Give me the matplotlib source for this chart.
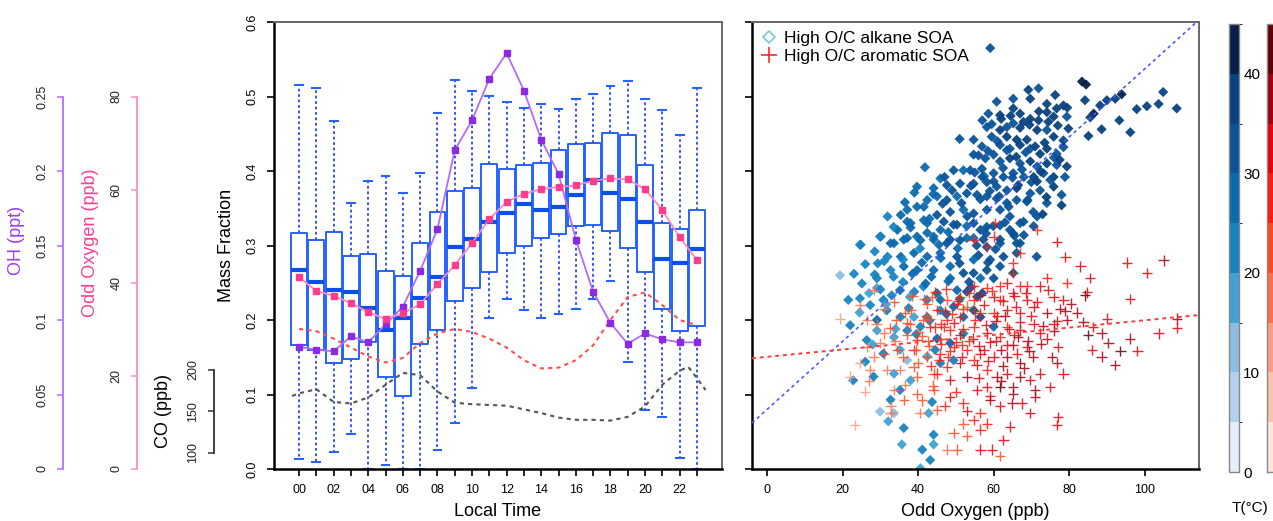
import numpy as np
import matplotlib
matplotlib.use("Agg")
import matplotlib.pyplot as plt
from matplotlib.colors import ListedColormap, BoundaryNorm
from matplotlib.lines import Line2D
import matplotlib.colorbar as mcolorbar

plt.rcParams['font.family'] = ['Liberation Sans', 'DejaVu Sans']

# ---- diurnal panel: mass fraction box stats per local hour ----
hours = np.arange(24)
hour_labels = [f"{h:02d}" if h % 2 == 0 else "" for h in hours]

mf_whishi = [0.515, 0.511, 0.467, 0.357, 0.387, 0.393, 0.370, 0.397, 0.478, 0.522, 0.508, 0.501,
             0.492, 0.484, 0.490, 0.483, 0.497, 0.503, 0.514, 0.521, 0.497, 0.482, 0.448, 0.512]
mf_q3 = [0.317, 0.308, 0.318, 0.286, 0.289, 0.266, 0.259, 0.304, 0.345, 0.373, 0.377, 0.410,
         0.403, 0.408, 0.411, 0.428, 0.436, 0.438, 0.451, 0.448, 0.408, 0.330, 0.322, 0.347]
mf_med = [0.267, 0.251, 0.240, 0.238, 0.216, 0.187, 0.203, 0.229, 0.258, 0.298, 0.309, 0.332,
          0.343, 0.356, 0.348, 0.352, 0.368, 0.388, 0.371, 0.362, 0.331, 0.282, 0.277, 0.295]
mf_q1 = [0.166, 0.160, 0.142, 0.147, 0.170, 0.124, 0.098, 0.168, 0.186, 0.225, 0.243, 0.265,
         0.290, 0.299, 0.310, 0.315, 0.326, 0.328, 0.320, 0.296, 0.265, 0.215, 0.185, 0.192]
mf_whislo = [0.013, 0.010, 0.023, 0.047, 0.000, 0.006, 0.000, 0.000, 0.025, 0.062, 0.109, 0.203,
             0.228, 0.213, 0.203, 0.208, 0.215, 0.228, 0.252, 0.144, 0.079, 0.070, 0.015, 0.000]

oh_ppt = [0.082, 0.080, 0.079, 0.089, 0.085, 0.097, 0.109, 0.133, 0.161, 0.214, 0.234, 0.262,
          0.279, 0.254, 0.221, 0.198, 0.154, 0.119, 0.098, 0.084, 0.091, 0.087, 0.085, 0.085]
ox_ppb = [41.2, 38.2, 37.2, 35.6, 33.7, 32.2, 33.4, 35.4, 39.7, 43.8, 48.5, 53.7,
          57.4, 59.1, 60.1, 60.6, 60.9, 61.9, 62.4, 62.2, 60.1, 55.6, 49.8, 44.9]
# second mass-fraction trace (red dashed)
mf_other = [0.188, 0.185, 0.175, 0.163, 0.151, 0.143, 0.149, 0.169, 0.182, 0.188, 0.184, 0.175,
            0.163, 0.146, 0.135, 0.136, 0.146, 0.166, 0.200, 0.231, 0.237, 0.220, 0.200, 0.193]
co_hours = [-0.4, 0, 1, 2, 3, 4, 5, 6, 7, 8, 9, 10, 11, 12, 13, 14, 15, 16, 17, 18, 19, 20,
            21, 22, 22.5, 23, 23.5]
co_ppb = [168.6, 171.8, 176.7, 161.4, 159.6, 166.8, 182.1, 196.4, 193.7, 174.0, 160.5, 158.7,
          157.8, 156.9, 152.5, 148.0, 142.6, 139.9, 139.9, 139.0, 143.5, 156.1, 182.1, 199.1,
          203.6, 190.1, 175.8]

# ---- scatter panel: mass fraction vs odd oxygen, coloured by temperature ----
alk_ox = [59.1, 83.4, 84.5, 93.9, 104.9, 108.5, 103.7, 100.6, 97.9, 96.2,
          93.3, 92.2, 90.0, 88.2, 86.5, 85.6, 88.6, 85.1, 84.2, 71.9,
          69.2, 69.7, 65.2, 60.8, 58.6, 61.7, 65.2, 67.0, 74.1, 76.3,
          78.5, 76.7, 79.4, 79.8, 75.9, 74.1, 71.9, 69.7, 67.9, 65.2,
          63.5, 61.7, 58.2, 63.5, 66.1, 68.8, 71.5, 74.1, 75.9, 78.5,
          76.7, 74.1, 72.3, 69.7, 67.0, 64.3, 61.7, 59.5, 56.9, 54.7,
          51.0, 54.7, 57.8, 60.0, 61.7, 64.3, 67.0, 69.7, 71.5, 74.1,
          76.7, 79.4, 78.9, 75.9, 73.2, 70.6, 68.0, 65.2, 62.6, 60.0,
          56.9, 53.8, 52.0, 49.4, 45.9, 41.8, 39.7, 44.1, 47.6, 51.1,
          54.7, 58.2, 60.8, 63.5, 66.1, 69.7, 72.3, 75.9, 78.0, 78.0,
          74.1, 71.5, 68.8, 66.1, 63.5, 60.8, 58.2, 55.6, 52.9, 50.3,
          47.6, 45.0, 42.4, 39.7, 37.1, 35.4, 31.9, 30.1, 24.8, 34.5,
          38.0, 41.5, 45.0, 48.5, 52.0, 54.7, 58.2, 61.7, 64.3, 67.0,
          70.6, 64.3, 59.9, 56.5, 52.9, 49.4, 45.9, 42.4, 39.7, 36.2,
          32.7, 44.1, 48.5, 52.9, 57.3, 61.7, 66.1,
          37.1, 42.4, 46.8, 50.3, 54.7, 58.2, 61.7, 65.2, 67.9, 29.9,
          24.6, 33.6, 37.1, 40.6, 44.1, 47.6, 51.1, 54.7, 58.2, 61.7,
          67.0, 71.4, 66.1, 62.6, 59.1, 54.7, 50.3, 45.9, 42.4, 38.9,
          35.4, 31.9, 29.3, 32.7, 36.2, 39.7, 44.1, 48.5, 52.0, 54.7,
          58.2, 61.7, 65.2, 60.0, 56.5, 19.3, 25.1, 29.1, 29.1, 24.6,
          21.5, 27.3, 30.8, 35.2, 37.8, 41.4, 42.3, 45.9, 50.3, 52.9,
          55.6, 54.7, 56.5, 52.0, 49.4, 45.9, 42.4, 38.9, 35.3, 31.7,
          29.1, 22.0, 26.4, 29.1, 33.6, 37.1, 40.6, 45.0, 48.5, 52.0,
          60.0, 26.0, 30.8, 35.2, 37.1, 42.4, 45.9, 49.4, 22.8, 28.2,
          33.6, 38.0, 35.2, 32.7, 33.6, 29.9, 32.1, 36.2, 42.8, 43.7,
          44.1, 41.1, 44.1, 35.7, 43.2, 40.6,
          57.0, 59.5, 62.0, 64.5, 67.0, 69.5, 72.0, 74.5, 77.0, 79.5,
          56.0, 58.5, 61.0, 63.5, 66.0, 68.5, 71.0, 73.5, 76.0, 78.5,
          55.0, 57.5, 60.0, 62.5, 65.0, 67.5, 70.0, 72.5, 75.0, 77.5,
          36.5, 39.0, 41.5, 44.0, 46.5, 49.0, 51.5, 54.0, 56.5, 59.0,
          61.5, 64.0, 66.5, 69.0, 71.5, 74.0, 38.0, 43.0, 48.0, 53.0,
          58.0, 63.0, 68.0, 73.0, 40.5, 45.5, 50.5, 55.5, 60.5, 65.5,
          70.5, 33.5, 28.5, 47.0, 57.0,
          23.0, 26.0, 28.5, 31.0, 33.5, 36.0, 38.5, 41.0, 43.5, 46.0,
          48.5, 51.0, 53.5, 56.0, 58.5, 27.0, 30.0, 33.0, 36.0, 39.0,
          42.0, 45.0, 48.0, 51.0, 54.0, 57.0, 24.5, 31.5, 37.5, 43.0,
          47.5, 34.0, 39.5, 28.0, 44.5]
alk_mf = [0.565, 0.520, 0.516, 0.503, 0.506, 0.484, 0.490, 0.487, 0.483, 0.452,
          0.468, 0.497, 0.495, 0.488, 0.477, 0.472, 0.456, 0.447, 0.495, 0.511,
          0.509, 0.497, 0.497, 0.493, 0.477, 0.475, 0.484, 0.477, 0.490, 0.502,
          0.488, 0.484, 0.473, 0.457, 0.473, 0.479, 0.468, 0.470, 0.466, 0.464,
          0.459, 0.455, 0.459, 0.446, 0.442, 0.442, 0.455, 0.455, 0.446, 0.432,
          0.423, 0.430, 0.423, 0.430, 0.435, 0.430, 0.435, 0.446, 0.433, 0.442,
          0.443, 0.422, 0.417, 0.422, 0.413, 0.417, 0.410, 0.413, 0.406, 0.410,
          0.408, 0.406, 0.392, 0.392, 0.397, 0.392, 0.392, 0.397, 0.392, 0.397,
          0.403, 0.401, 0.401, 0.401, 0.390, 0.405, 0.379, 0.377, 0.381, 0.383,
          0.383, 0.385, 0.379, 0.374, 0.377, 0.370, 0.374, 0.379, 0.368, 0.354,
          0.357, 0.339, 0.359, 0.361, 0.357, 0.363, 0.366, 0.368, 0.370, 0.366,
          0.361, 0.366, 0.361, 0.352, 0.348, 0.341, 0.339, 0.312, 0.301, 0.321,
          0.330, 0.334, 0.341, 0.345, 0.348, 0.343, 0.348, 0.348, 0.339, 0.330,
          0.326, 0.321, 0.326, 0.321, 0.326, 0.328, 0.321, 0.317, 0.312, 0.308,
          0.303, 0.308, 0.308, 0.310, 0.308, 0.308, 0.303,
          0.332, 0.330, 0.332, 0.328, 0.330, 0.325, 0.327, 0.316, 0.332, 0.312,
          0.301, 0.303, 0.310, 0.307, 0.312, 0.303, 0.307, 0.310, 0.298, 0.303,
          0.303, 0.285, 0.290, 0.285, 0.281, 0.281, 0.285, 0.290, 0.285, 0.290,
          0.285, 0.285, 0.276, 0.267, 0.272, 0.267, 0.267, 0.272, 0.263, 0.263,
          0.267, 0.272, 0.263, 0.256, 0.256, 0.260, 0.249, 0.256, 0.243, 0.229,
          0.227, 0.220, 0.227, 0.240, 0.231, 0.245, 0.227, 0.227, 0.240, 0.238,
          0.231, 0.213, 0.204, 0.204, 0.218, 0.213, 0.204, 0.204, 0.204, 0.213,
          0.200, 0.193, 0.173, 0.186, 0.177, 0.186, 0.191, 0.175, 0.169, 0.182,
          0.191, 0.144, 0.155, 0.160, 0.146, 0.151, 0.142, 0.146, 0.119, 0.124,
          0.128, 0.119, 0.106, 0.093, 0.075, 0.077, 0.064, 0.055, 0.075, 0.090,
          0.046, 0.026, 0.033, 0.033, 0.012, 0.001,
          0.468, 0.463, 0.470, 0.474, 0.458, 0.462, 0.480, 0.466, 0.461, 0.485,
          0.421, 0.427, 0.440, 0.428, 0.419, 0.425, 0.433, 0.438, 0.418, 0.441,
          0.398, 0.393, 0.386, 0.404, 0.391, 0.402, 0.385, 0.399, 0.388, 0.415,
          0.358, 0.371, 0.352, 0.369, 0.356, 0.374, 0.357, 0.380, 0.362, 0.373,
          0.366, 0.352, 0.381, 0.361, 0.386, 0.365, 0.324, 0.336, 0.318, 0.339,
          0.316, 0.331, 0.314, 0.342, 0.296, 0.301, 0.296, 0.300, 0.295, 0.313,
          0.345, 0.325, 0.292, 0.392, 0.392,
          0.262, 0.275, 0.261, 0.279, 0.258, 0.281, 0.262, 0.277, 0.258, 0.283,
          0.256, 0.276, 0.251, 0.287, 0.277, 0.236, 0.241, 0.233, 0.251, 0.238,
          0.249, 0.236, 0.252, 0.228, 0.244, 0.236, 0.210, 0.221, 0.216, 0.199,
          0.208, 0.188, 0.181, 0.167, 0.160]
alk_temp = [34, 41, 44, 44, 38, 38, 37, 38, 37, 38,
            36, 38, 37, 38, 40, 39, 37, 36, 36, 34,
            38, 36, 34, 33, 32, 35, 37, 36, 35, 37,
            36, 38, 34, 36, 37, 36, 38, 35, 36, 34,
            33, 35, 31, 36, 37, 35, 36, 34, 35, 33,
            34, 36, 35, 33, 36, 34, 32, 33, 31, 32,
            30, 33, 31, 34, 32, 35, 33, 36, 34, 35,
            33, 36, 34, 35, 33, 36, 32, 34, 31, 33,
            30, 32, 29, 30, 28, 27, 26, 29, 30, 31,
            33, 31, 34, 32, 35, 33, 34, 36, 33, 35,
            34, 33, 32, 34, 31, 33, 30, 32, 31, 29,
            30, 28, 29, 27, 28, 26, 24, 25, 20, 27,
            28, 29, 30, 31, 29, 32, 30, 33, 31, 32,
            33, 31, 30, 32, 29, 30, 28, 27, 28, 26,
            25, 29, 31, 28, 30, 32, 33,
            27, 29, 30, 31, 33, 30, 32, 34, 33, 24,
            22, 26, 27, 29, 28, 30, 31, 29, 33, 31,
            30, 34, 32, 30, 31, 29, 30, 27, 26, 28,
            25, 24, 22, 24, 26, 27, 29, 28, 30, 31,
            32, 34, 33, 31, 29, 14, 21, 23, 19, 22,
            24, 20, 23, 26, 17, 24, 21, 26, 28, 31,
            32, 30, 33, 28, 27, 24, 22, 18, 23, 21,
            25, 23, 20, 18, 16, 23, 22, 25, 27, 20,
            26, 22, 21, 17, 13, 19, 21, 20, 24, 22,
            18, 15, 20, 22, 14, 12, 17, 21, 19, 20,
            22, 21, 19, 18, 20, 17,
            33, 34, 36, 35, 37, 36, 38, 37, 36, 39,
            31, 33, 34, 32, 35, 34, 36, 35, 34, 37,
            30, 29, 32, 31, 33, 34, 32, 35, 33, 36,
            26, 27, 28, 29, 30, 31, 30, 32, 33, 32,
            34, 33, 35, 34, 36, 35, 25, 27, 29, 30,
            31, 33, 34, 35, 24, 27, 29, 30, 31, 33,
            34, 24, 21, 31, 33,
            20, 22, 21, 23, 22, 24, 25, 26, 27, 28,
            29, 30, 31, 32, 33, 19, 21, 20, 22, 24,
            25, 26, 27, 28, 30, 31, 17, 19, 21, 23,
            25, 18, 20, 15, 21]

aro_ox = [60.4, 71.4, 76.7, 54.7, 58.2, 79.0, 83.0, 85.6, 95.3, 105.0,
          100.6, 96.2, 84.7, 84.2, 79.4, 78.5, 75.9, 74.1, 72.3, 68.8,
          67.0, 65.2, 63.5, 61.7, 60.0, 58.2, 54.7, 52.9, 50.3, 47.6,
          45.0, 42.4, 38.0, 33.6, 30.9, 28.2, 24.6, 19.3, 26.4, 32.6,
          37.0, 39.7, 43.2, 45.9, 48.5, 51.1, 54.7, 58.2, 61.7, 65.2,
          63.5, 67.0, 70.6, 72.3, 74.1, 76.7, 79.4, 83.8, 86.4, 88.6,
          90.0, 90.4, 93.6, 96.2, 98.1, 92.2, 88.6, 86.0, 103.7, 108.6,
          108.6, 77.1, 76.7, 78.5, 74.9, 70.5, 67.0, 69.7, 71.0, 67.5,
          69.7, 77.1, 76.7, 65.2, 63.5, 61.7, 59.1, 61.7, 56.5, 54.7,
          56.5, 52.9, 56.5, 59.6, 62.6, 61.7, 50.3, 47.7, 52.0, 45.0,
          40.6, 39.7, 44.1, 48.5, 52.9, 55.6, 58.2, 54.7, 51.1, 47.6,
          44.1, 39.7, 35.2, 31.7, 27.3, 22.0, 26.0, 33.6, 36.2, 32.7,
          23.3, 32.7, 28.2, 30.9, 34.4, 38.8, 42.4, 45.9, 49.4, 52.9,
          56.5, 60.0, 63.5, 66.1, 68.8, 47.6, 51.1, 56.5, 60.0, 63.5,
          67.0, 70.6, 74.1, 75.9, 61.7, 65.2, 68.8, 54.7, 51.1, 43.7,
          46.8, 41.4, 37.8, 34.2, 29.9, 26.4, 24.6, 38.8, 45.0, 60.8,
          67.0, 72.3, 65.2, 58.2, 48.5, 52.0, 64.3, 58.2, 49.4, 67.0,
          60.0, 65.2,
          42.0, 44.5, 47.0, 49.5, 52.0, 55.0, 57.5, 60.5, 63.0, 66.0,
          41.0, 43.0, 46.0, 50.0, 53.5, 56.0, 59.0, 62.0, 65.5, 69.0,
          36.0, 40.0, 43.5, 48.0, 51.5, 55.5, 58.5, 62.5, 36.5, 31.0,
          38.5, 41.5, 44.5, 47.5, 50.5, 53.5, 56.5, 59.5, 62.5, 65.5,
          68.5, 71.5, 74.5, 77.5, 80.5, 37.0, 40.0, 43.0, 46.0, 49.0,
          52.0, 55.0, 58.0, 61.0, 64.0, 67.0, 70.0, 73.0, 76.0, 79.0,
          39.5, 42.5, 45.5, 48.5, 51.5, 54.5, 57.5, 60.5, 63.5, 66.5,
          69.5, 72.5, 75.5, 82.0, 85.0, 34.0, 29.0, 27.0, 36.5, 41.0,
          44.0, 47.0, 50.0, 53.0, 56.0, 59.0, 62.0, 65.0, 68.0, 71.0]
aro_mf = [0.330, 0.321, 0.305, 0.307, 0.298, 0.285, 0.272, 0.256, 0.277, 0.280,
          0.263, 0.228, 0.237, 0.233, 0.250, 0.227, 0.231, 0.256, 0.245, 0.227,
          0.245, 0.263, 0.249, 0.245, 0.231, 0.243, 0.227, 0.218, 0.222, 0.227,
          0.213, 0.222, 0.213, 0.224, 0.215, 0.240, 0.220, 0.202, 0.200, 0.189,
          0.180, 0.173, 0.191, 0.175, 0.186, 0.180, 0.191, 0.182, 0.177, 0.166,
          0.191, 0.186, 0.195, 0.182, 0.175, 0.198, 0.200, 0.197, 0.191, 0.182,
          0.202, 0.169, 0.158, 0.175, 0.158, 0.140, 0.151, 0.160, 0.182, 0.189,
          0.202, 0.164, 0.142, 0.128, 0.110, 0.151, 0.142, 0.119, 0.097, 0.088,
          0.075, 0.070, 0.059, 0.110, 0.128, 0.110, 0.093, 0.084, 0.075, 0.066,
          0.053, 0.044, 0.026, 0.026, 0.039, 0.017, 0.026, 0.026, 0.061, 0.079,
          0.075, 0.101, 0.106, 0.119, 0.124, 0.106, 0.133, 0.146, 0.142, 0.137,
          0.128, 0.124, 0.133, 0.133, 0.133, 0.124, 0.104, 0.106, 0.093, 0.075,
          0.059, 0.084, 0.151, 0.155, 0.160, 0.160, 0.151, 0.155, 0.164, 0.160,
          0.155, 0.151, 0.151, 0.155, 0.164, 0.200, 0.204, 0.209, 0.209, 0.213,
          0.209, 0.218, 0.209, 0.195, 0.227, 0.236, 0.245, 0.245, 0.231, 0.231,
          0.191, 0.200, 0.195, 0.200, 0.169, 0.164, 0.142, 0.137, 0.128, 0.124,
          0.124, 0.128, 0.101, 0.110, 0.097, 0.088, 0.057, 0.061, 0.048, 0.290,
          0.312, 0.276,
          0.205, 0.190, 0.212, 0.196, 0.215, 0.200, 0.220, 0.198, 0.205, 0.218,
          0.178, 0.165, 0.168, 0.170, 0.172, 0.165, 0.170, 0.160, 0.180, 0.172,
          0.150, 0.142, 0.138, 0.150, 0.150, 0.140, 0.145, 0.138, 0.210, 0.182,
          0.232, 0.228, 0.237, 0.241, 0.226, 0.236, 0.233, 0.239, 0.226, 0.232,
          0.236, 0.224, 0.240, 0.215, 0.222, 0.196, 0.184, 0.201, 0.194, 0.208,
          0.188, 0.212, 0.193, 0.205, 0.188, 0.197, 0.205, 0.192, 0.185, 0.212,
          0.160, 0.172, 0.146, 0.158, 0.166, 0.175, 0.160, 0.172, 0.166, 0.177,
          0.158, 0.168, 0.150, 0.210, 0.180, 0.172, 0.195, 0.118, 0.113, 0.092,
          0.112, 0.085, 0.103, 0.078, 0.122, 0.098, 0.118, 0.088, 0.135, 0.106]
aro_temp = [26, 28, 30, 25, 27, 31, 30, 33, 31, 36,
            32, 34, 31, 41, 29, 33, 31, 27, 30, 32,
            28, 26, 30, 27, 32, 25, 28, 24, 29, 23,
            26, 22, 24, 20, 18, 16, 17, 12, 19, 21,
            23, 25, 27, 28, 26, 30, 28, 32, 29, 36,
            27, 31, 33, 30, 34, 31, 36, 39, 33, 37,
            33, 36, 41, 37, 34, 36, 38, 33, 32, 34,
            36, 33, 38, 34, 32, 36, 39, 33, 36, 32,
            31, 34, 33, 37, 31, 40, 36, 31, 27, 25,
            29, 24, 31, 34, 32, 22, 20, 18, 23, 21,
            19, 20, 24, 32, 36, 31, 29, 27, 34, 26,
            23, 21, 19, 17, 16, 12, 14, 18, 22, 16,
            14, 17, 19, 21, 23, 25, 22, 27, 29, 26,
            31, 33, 38, 34, 32, 25, 27, 29, 26, 31,
            34, 32, 37, 33, 28, 30, 26, 25, 27, 22,
            26, 23, 21, 20, 18, 15, 14, 21, 27, 36,
            38, 34, 39, 31, 30, 28, 32, 27, 20, 28,
            26, 29,
            23, 26, 27, 30, 25, 28, 33, 31, 36, 32,
            22, 24, 27, 29, 27, 32, 30, 36, 33, 37,
            20, 23, 25, 28, 32, 30, 34, 38, 21, 18,
            21, 23, 25, 27, 26, 28, 30, 29, 31, 30,
            32, 34, 33, 35, 36, 20, 22, 24, 26, 27,
            28, 29, 31, 30, 33, 32, 34, 35, 36, 37,
            21, 24, 26, 28, 29, 30, 31, 33, 34, 35,
            37, 36, 38, 39, 40, 19, 17, 15, 18, 21,
            24, 26, 28, 30, 31, 33, 35, 36, 38, 37]

# least-squares lines (intercept, slope) for each group
alk_fit = (0.080, 0.00457)
aro_fit = (0.1506, 0.00049)

temp_bounds = np.arange(0, 50, 5)
blues = ['#e3effa', '#b3d1ec', '#8dbde3', '#43a2d1', '#1784c2',
         '#0b6aae', '#0a5398', '#08427f', '#081f4a']
reds = ['#fde6dc', '#fcc2ab', '#fc9d80', '#ff6e4a', '#ff4a20',
        '#ff1a10', '#e8000e', '#a4000f', '#5e0007']
blue_cmap = ListedColormap(blues)
red_cmap = ListedColormap(reds)
tnorm = BoundaryNorm(temp_bounds, len(blues))

W, H = 1273, 521
fig = plt.figure(figsize=(W / 100, H / 100), dpi=100)


def px_axes(x0, y0, x1, y1):
    return fig.add_axes([x0 / W, 1 - y1 / H, (x1 - x0) / W, (y1 - y0) / H])


def frame(a):
    for s in ('left', 'bottom'):
        a.spines[s].set_color('black')
        a.spines[s].set_linewidth(1.8)
    for s in ('top', 'right'):
        a.spines[s].set_color('#666666')
        a.spines[s].set_linewidth(1.4)
    a.tick_params(direction='out', length=5, width=1.2, labelsize=9, pad=6)


# ---- left panel ----
ax = px_axes(274, 22, 722, 469)
stats = [dict(whislo=lo, q1=a, med=m, q3=b, whishi=hi)
         for lo, a, m, b, hi in zip(mf_whislo, mf_q1, mf_med, mf_q3, mf_whishi)]
box_blue = '#2563ff'
ax.bxp(stats, positions=hours, widths=0.92, showfliers=False, capwidths=0.45,
       boxprops=dict(color=box_blue, lw=1.4),
       medianprops=dict(color='#0a50e6', lw=3),
       whiskerprops=dict(color='#3a55ee', lw=1.4, linestyle=(0, (1.4, 1.4))),
       capprops=dict(color=box_blue, lw=1.5))
ax.plot(hours, mf_other, color='#ff5050', lw=1.5, linestyle=(0, (2, 2)))
ax.set_xlim(-1.45, 24.45)
ax.set_ylim(0, 0.6)
ax.set_xticks(hours)
ax.set_xticklabels(hour_labels)
ax.set_yticks(np.arange(0, 0.61, 0.1))
ax.set_yticklabels([f"{v:.1f}" for v in np.arange(0, 0.61, 0.1)])
frame(ax)
ax.tick_params(axis='y', labelrotation=90)
plt.setp(ax.get_yticklabels(), va='center')
ax.set_xlabel('Local Time', fontsize=13)
ax.xaxis.set_label_coords(0.5, -0.075)
ax.set_ylabel('Mass Fraction', fontsize=13)
ax.yaxis.set_label_coords(-0.087, 0.5)


def side_axis(offset_px, ylim, bounds, ticks, ticklabels, color, label, label_color,
              label_xy):
    a = ax.twinx()
    a.set_ylim(*ylim)
    a.yaxis.tick_left()
    for s in ('top', 'right', 'bottom'):
        a.spines[s].set_visible(False)
    sp = a.spines['left']
    sp.set_visible(True)
    sp.set_position(('outward', offset_px * 0.72))
    sp.set_bounds(*bounds)
    sp.set_color(color)
    sp.set_linewidth(1.3)
    a.set_yticks(ticks)
    a.set_yticklabels(ticklabels)
    a.tick_params(axis='y', direction='out', length=4.5, width=1.1, color=color,
                  labelcolor='#222222', labelsize=9, labelrotation=90, pad=6)
    plt.setp(a.get_yticklabels(), va='center')
    a.set_ylabel(label, color=label_color, fontsize=13)
    a.yaxis.set_label_position('left')
    a.yaxis.set_label_coords(*label_xy)
    return a


ax_oh = side_axis(211, (0, 0.3), (0, 0.25), [0, 0.05, 0.1, 0.15, 0.2, 0.25],
                  ['0', '0.05', '0.1', '0.15', '0.2', '0.25'], '#b070ff',
                  'OH (ppt)', '#9a3cf5', (-0.556, 0.512))
ax_ox = side_axis(137, (0, 96), (0, 80), [0, 20, 40, 60, 80],
                  ['0', '20', '40', '60', '80'], '#ff8cc6',
                  'Odd Oxygen (ppb)', '#ff3d96', (-0.391, 0.506))
ax_co = side_axis(60, (80.7, 618.8), (100, 200), [100, 150, 200],
                  ['100', '150', '200'], '#333333',
                  'CO (ppb)', 'black', (-0.228, 0.13))

ax_co.plot(co_hours, co_ppb, color='#555555', lw=1.5, linestyle=(0, (2, 2)))
ax_ox.plot(hours, ox_ppb, color='#ff88c4', lw=1.3, marker='s', ms=4.5,
           mfc='#ff3d8c', mec='#ff3d8c')
ax_oh.plot(hours, oh_ppt, color='#b36cf5', lw=1.3, marker='s', ms=4.5,
           mfc='#8a2be2', mec='#8a2be2')

# ---- right panel ----
bx = px_axes(752, 22, 1199, 469)
bx.scatter(alk_ox, alk_mf, c=alk_temp, cmap=blue_cmap, norm=tnorm, marker='D',
           s=27, edgecolors='none', alpha=0.95, zorder=2)
bx.scatter(aro_ox, aro_mf, c=aro_temp, cmap=red_cmap, norm=tnorm, marker='+',
           s=55, linewidths=1.0, alpha=0.85, zorder=3)
bx.axline((0, alk_fit[0]), slope=alk_fit[1], color='#4a5aff', lw=1.2,
          linestyle=(0, (2, 2)), zorder=4)
bx.axline((0, aro_fit[0]), slope=aro_fit[1], color='#ff3a3a', lw=1.4,
          linestyle=(0, (2, 2)), zorder=4)
bx.set_xlim(-4, 114.4)
bx.set_ylim(0, 0.6)
bx.set_xticks(np.arange(0, 101, 20))
bx.set_yticks(np.arange(0, 0.61, 0.1))
bx.set_yticklabels([])
frame(bx)
bx.set_xlabel('Odd Oxygen (ppb)', fontsize=13)
bx.xaxis.set_label_coords(0.5, -0.075)

handles = [Line2D([], [], marker='D', ls='none', mfc='none', mec='#7cc6e2', ms=6.5, mew=1.2),
           Line2D([], [], marker='+', ls='none', color='#ff2a2a', ms=11, mew=1.2)]
bx.legend(handles, ['High O/C alkane SOA', 'High O/C aromatic SOA'], loc='upper left',
          frameon=False, fontsize=12.5, handlelength=1.0, handletextpad=0.35,
          borderaxespad=0.1, labelspacing=0.15)

# ---- temperature colour bars ----
cb_blue = px_axes(1229, 24, 1239, 472)
cb = mcolorbar.ColorbarBase(cb_blue, cmap=blue_cmap, norm=tnorm, ticks=[0, 10, 20, 30, 40])
cb.outline.set_edgecolor('#888888')
cb.outline.set_linewidth(1.0)
cb_blue.tick_params(length=0, labelsize=11, pad=3)

cb_red = px_axes(1267, 24, 1279, 472)
cr = mcolorbar.ColorbarBase(cb_red, cmap=red_cmap, norm=tnorm, ticks=[])
cr.outline.set_edgecolor('#888888')
cr.outline.set_linewidth(1.0)

fig.text(1250 / W, 1 - 508 / H, 'T(°C)', ha='center', va='center', fontsize=11)

fig.savefig('out.png', dpi=100)
